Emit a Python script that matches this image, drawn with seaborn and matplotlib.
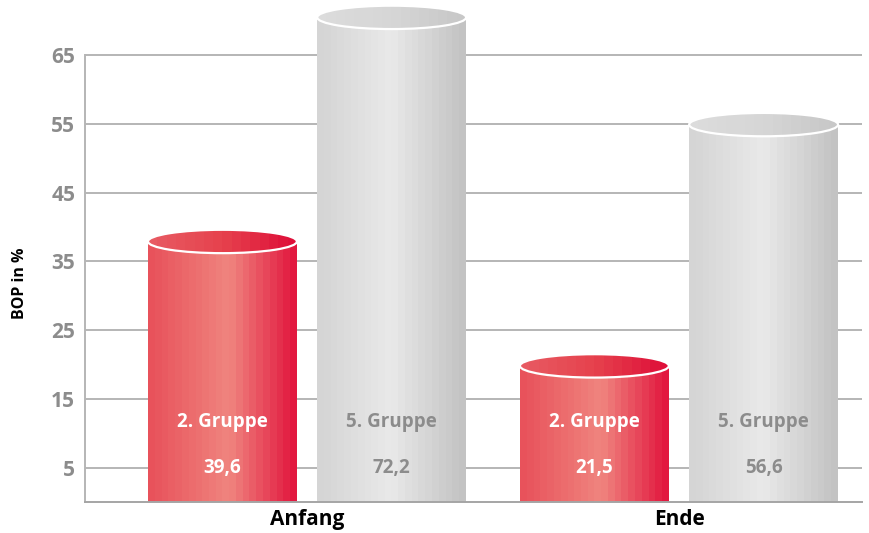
import numpy as np
import pandas as pd
import matplotlib
matplotlib.use('Agg')
import matplotlib.pyplot as plt
import seaborn as sns
from matplotlib.patches import Ellipse
from matplotlib.colors import LinearSegmentedColormap

# Daten
zeitpunkte = ['Anfang', 'Ende']
gruppen = ['2. Gruppe', '5. Gruppe']
werte_gruppe2 = [39.6, 21.5]
werte_gruppe5 = [72.2, 56.6]
y_ticks = [5, 15, 25, 35, 45, 55, 65]

df = pd.DataFrame({
    'Zeitpunkt': zeitpunkte * 2,
    'Gruppe': [gruppen[0]] * 2 + [gruppen[1]] * 2,
    'BOP': werte_gruppe2 + werte_gruppe5,
})

sns.set_style('white')
plt.rcParams['font.family'] = ['Open Sans', 'DejaVu Sans']

fig = plt.figure(figsize=(8.7, 5.33), dpi=100)
ax = fig.add_axes([85 / 870, 31 / 533, 777 / 870, 497 / 533])

sns.barplot(data=df, x='Zeitpunkt', y='BOP', hue='Gruppe', order=zeitpunkte,
            hue_order=gruppen, width=0.91, gap=0.12, errorbar=None,
            palette=['#e8525b', '#d5d5d5'], legend=False, ax=ax)

# Farbverläufe (leicht gestuft wie im Original)
rot_body = LinearSegmentedColormap.from_list(
    'rot', [(0, '#e8525b'), (0.55, '#f0857f'), (1, '#e2183f')], N=22)
grau_body = LinearSegmentedColormap.from_list(
    'grau', [(0, '#d5d5d5'), (0.5, '#e9e9e9'), (1, '#c3c3c3')], N=22)
rot_top = LinearSegmentedColormap.from_list(
    'rot_top', [(0, '#e85a62'), (0.5, '#e6424d'), (1, '#df0f39')], N=16)
grau_top = LinearSegmentedColormap.from_list(
    'grau_top', [(0, '#dcdcdc'), (0.5, '#d6d6d6'), (1, '#c8c8c8')], N=16)

grad = np.linspace(0, 1, 256).reshape(1, -1)
cap = 3.4  # Höhe der Deckel-Ellipse in Dateneinheiten

for p in list(ax.patches):
    x0, w, v = p.get_x(), p.get_width(), p.get_height()
    if v <= 0:
        continue
    xc = x0 + w / 2
    links = xc < round(xc)
    body_cmap, top_cmap = (rot_body, rot_top) if links else (grau_body, grau_top)
    p.set_height(v - cap / 2)
    p.set_facecolor('none')
    p.set_edgecolor('none')
    ax.imshow(grad, extent=[x0, x0 + w, 0, v - cap / 2], aspect='auto',
              cmap=body_cmap, origin='lower', zorder=2, interpolation='nearest')
    deckel = Ellipse((xc, v - cap / 2), w, cap, facecolor='none',
                     edgecolor='none', zorder=3, clip_on=False)
    ax.add_patch(deckel)
    im = ax.imshow(grad, extent=[x0, x0 + w, v - cap, v], aspect='auto',
                   cmap=top_cmap, origin='lower', zorder=3, interpolation='nearest')
    im.set_clip_path(deckel)
    im.set_clip_on(True)
    ax.add_patch(Ellipse((xc, v - cap / 2), w, cap, facecolor='none',
                         edgecolor='white', lw=1.6, zorder=4, clip_on=False))

    # Beschriftungen im Balken
    farbe = 'white' if links else '#8c8c8c'
    name = gruppen[0] if links else gruppen[1]
    ax.text(xc, 11.6, name, ha='center', va='center', color=farbe,
            fontsize=13.5, fontweight='bold', zorder=5)
    ax.text(xc, 4.9, f'{v:.1f}'.replace('.', ','), ha='center', va='center',
            color=farbe, fontsize=13.5, fontweight='bold', zorder=5)

ax.set_xlim(-0.597, 1.492)
ax.set_ylim(0, 72.3)
ax.set_yticks(y_ticks)
ax.yaxis.grid(True, color='#b5b5b5', lw=1.4)
ax.set_axisbelow(True)

for s in ['top', 'right']:
    ax.spines[s].set_visible(False)
ax.spines['left'].set_bounds(0, 65)
ax.spines['left'].set_color('#b5b5b5')
ax.spines['left'].set_linewidth(1.4)
ax.spines['bottom'].set_color('#a5a5a5')
ax.spines['bottom'].set_linewidth(1.4)

ax.tick_params(axis='y', length=0, pad=7, labelsize=15, labelcolor='#8c8c8c')
ax.tick_params(axis='x', length=0, pad=5, labelsize=15, labelcolor='black')
for lab in ax.get_yticklabels() + ax.get_xticklabels():
    lab.set_fontweight('bold')

ax.set_xlabel('')
ax.set_ylabel('')
fig.text(20 / 870, 1 - 283 / 533, 'BOP in %', rotation=90, ha='center',
         va='center', fontsize=11.5, fontweight='bold', color='black')

fig.savefig('out.png', dpi=100)
